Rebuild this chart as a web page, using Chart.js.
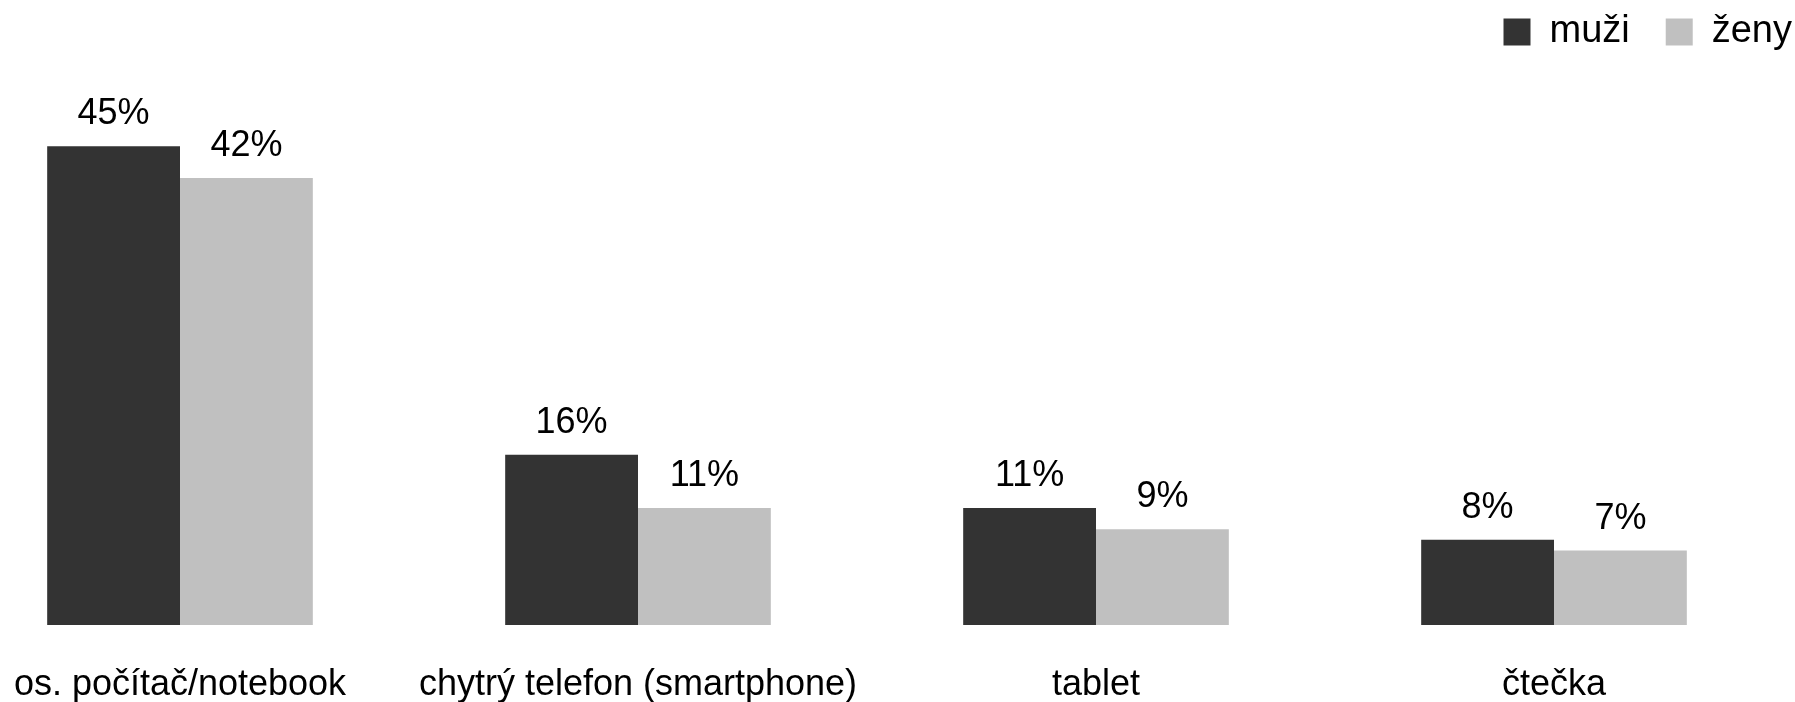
<!DOCTYPE html>
<html>
<head>
<meta charset="utf-8">
<script src="https://cdn.jsdelivr.net/npm/chart.js@4/dist/chart.umd.min.js"></script>
<style>
  html, body { margin: 0; padding: 0; background: #ffffff; }
  #wrap { width: 1795px; height: 702px; position: relative; }
</style>
</head>
<body>
<div id="wrap"><canvas id="c" width="1795" height="702"></canvas></div>
<script>
const categories = ['os. počítač/notebook', 'chytrý telefon (smartphone)', 'tablet', 'čtečka'];
const seriesNames = ['muži', 'ženy'];
const muzi = [45, 16, 11, 8];
const zeny = [42, 11, 9, 7];

const FONT = "'Liberation Sans', Arial, sans-serif";

// Writes each bar's percentage above its top edge
const valueLabels = {
  id: 'valueLabels',
  afterDatasetsDraw(chart) {
    const ctx = chart.ctx;
    ctx.save();
    ctx.font = '36px ' + FONT;
    ctx.fillStyle = '#000000';
    ctx.textAlign = 'center';
    ctx.textBaseline = 'alphabetic';
    chart.data.datasets.forEach((ds, di) => {
      const meta = chart.getDatasetMeta(di);
      meta.data.forEach((bar, i) => {
        ctx.fillText(ds.data[i] + '%', bar.x, bar.y - 22);
      });
    });
    ctx.restore();
  }
};

new Chart(document.getElementById('c'), {
  type: 'bar',
  data: {
    labels: categories,
    datasets: [
      { label: seriesNames[0], data: muzi, backgroundColor: '#333333', borderWidth: 0, clip: false },
      { label: seriesNames[1], data: zeny, backgroundColor: '#c0c0c0', borderWidth: 0, clip: false }
    ]
  },
  options: {
    responsive: false,
    animation: false,
    devicePixelRatio: 1,
    // legend sits flush with the top-right corner
    layout: { padding: { left: 0, right: -33, top: -23, bottom: 0 } },
    categoryPercentage: 0.58,
    barPercentage: 1.0,
    plugins: {
      legend: {
        position: 'top',
        align: 'end',
        labels: {
          font: { family: FONT, size: 38 },
          color: '#000000',
          boxWidth: 27,
          boxHeight: 27,
          padding: 36
        }
      },
      tooltip: { enabled: false }
    },
    scales: {
      x: {
        offset: false,
        // invisible tick marks leave the gap between bars and category names
        grid: { display: false, drawTicks: true, tickLength: 38 },
        border: { display: false },
        ticks: {
          font: { family: FONT, size: 36 },
          color: '#000000',
          padding: 0,
          maxRotation: 0,
          autoSkip: false
        },
        afterFit(scale) { scale.height = 77; }
      },
      y: {
        position: 'left',
        min: 0,
        max: 53,
        grid: { display: false },
        border: { display: false },
        ticks: { display: false },
        afterFit(scale) { scale.width = 180; }
      },
      yRight: {
        position: 'right',
        min: 0,
        max: 53,
        grid: { display: false },
        border: { display: false },
        ticks: { display: false },
        afterFit(scale) { scale.width = 274; }
      }
    }
  },
  plugins: [valueLabels]
});
</script>
</body>
</html>
